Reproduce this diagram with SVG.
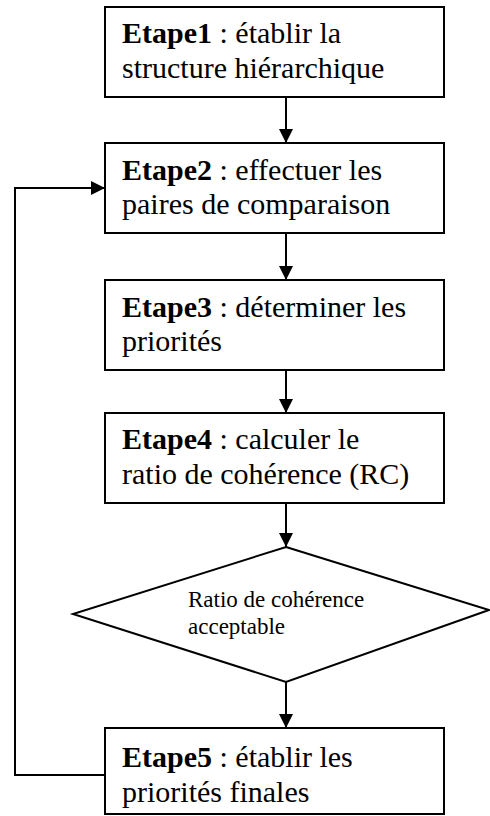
<svg xmlns="http://www.w3.org/2000/svg" width="490" height="816" viewBox="0 0 490 816">
  <defs>
    <marker id="arrow" viewBox="0 0 14 14" refX="14" refY="7" markerWidth="14" markerHeight="14" markerUnits="userSpaceOnUse" orient="auto">
      <path d="M0,0 L14,7 L0,14 Z" fill="#000"/>
    </marker>
    <style>
      .box { fill: #fff; stroke: #000; stroke-width: 2; }
      .txt { font-family: 'Liberation Serif', 'Times New Roman', serif; font-size: 30px; fill: #000; }
      .b { font-weight: bold; }
      .small { font-family: 'Liberation Serif', 'Times New Roman', serif; font-size: 23px; fill: #000; }
      .conn { fill: none; stroke: #000; stroke-width: 2; marker-end: url(#arrow); }
    </style>
  </defs>
  <rect width="490" height="816" fill="#fff"/>

  <g id="connectors">
    <line class="conn" x1="286" y1="97" x2="286" y2="143"/>
    <line class="conn" x1="286" y1="233" x2="286" y2="280"/>
    <line class="conn" x1="286" y1="370" x2="286" y2="413"/>
    <line class="conn" x1="286" y1="503" x2="286" y2="547"/>
    <line class="conn" x1="286" y1="682" x2="286" y2="728"/>
    <!-- feedback loop: step 5 back to step 2 -->
    <polyline class="conn" points="105,775 15,775 15,188 105,188"/>
  </g>

  <g id="step1">
    <rect class="box" x="105" y="7" width="339" height="90"/>
    <text class="txt" x="122" y="43"><tspan class="b">Etape1</tspan> : établir la</text>
    <text class="txt" x="122" y="78">structure hiérarchique</text>
  </g>

  <g id="step2">
    <rect class="box" x="105" y="143" width="339" height="90"/>
    <text class="txt" x="122" y="180"><tspan class="b">Etape2</tspan> : effectuer les</text>
    <text class="txt" x="122" y="214">paires de comparaison</text>
  </g>

  <g id="step3">
    <rect class="box" x="105" y="280" width="339" height="90"/>
    <text class="txt" x="122" y="317"><tspan class="b">Etape3</tspan> : déterminer les</text>
    <text class="txt" x="122" y="351">priorités</text>
  </g>

  <g id="step4">
    <rect class="box" x="105" y="413" width="339" height="90"/>
    <text class="txt" x="122" y="449"><tspan class="b">Etape4</tspan> : calculer le</text>
    <text class="txt" x="122" y="484">ratio de cohérence (RC)</text>
  </g>

  <g id="decision">
    <polygon class="box" points="286,547 489,610 286,682 73,614"/>
    <text class="small" x="188" y="607">Ratio de cohérence</text>
    <text class="small" x="188" y="634">acceptable</text>
  </g>

  <g id="step5">
    <rect class="box" x="105" y="728" width="339" height="86"/>
    <text class="txt" x="122" y="767"><tspan class="b">Etape5</tspan> : établir les</text>
    <text class="txt" x="122" y="802">priorités finales</text>
  </g>
</svg>
